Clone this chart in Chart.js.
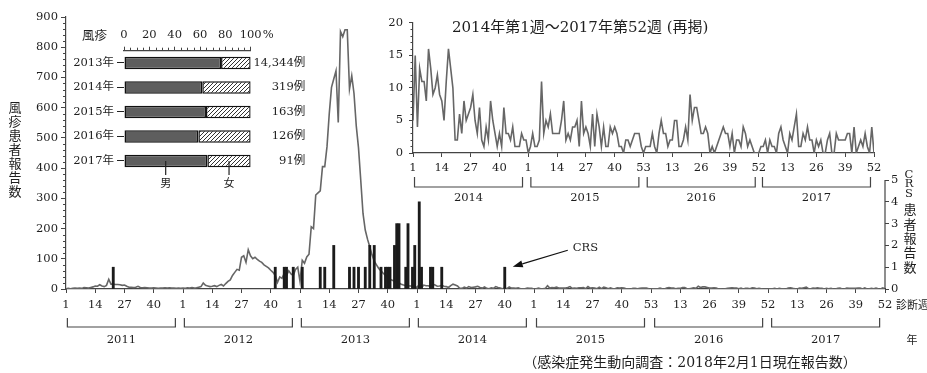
<!DOCTYPE html>
<html>
<head>
<meta charset="utf-8">
<script src="https://cdn.jsdelivr.net/npm/chart.js@4/dist/chart.umd.min.js"></script>
<style>
  html, body { margin: 0; padding: 0; background: #fff; }
  #wrap { position: relative; width: 927px; height: 373px; overflow: hidden; }
  #wrap canvas { position: absolute; }
  #mainChart { left: 0; top: 0; width: 927px; height: 373px; }
  #trendChart { left: 370px; top: 10px; width: 520px; height: 200px; }
  #sexChart { left: 60px; top: 20px; width: 260px; height: 180px; }
</style>
</head>
<body>
<div id="wrap">
  <canvas id="mainChart" width="927" height="373"></canvas>
  <canvas id="trendChart" width="520" height="200"></canvas>
  <canvas id="sexChart" width="260" height="180"></canvas>
</div>
<script>
// weekly rubella reports, one array per year
const years = [2011, 2012, 2013, 2014, 2015, 2016, 2017];
const weeksPerYear = [52, 52, 52, 52, 53, 52, 52];

const rubella2011 = [1, 2, 1, 2, 3, 2, 3, 2, 5, 4, 3, 5, 7, 10, 9, 14, 10, 8, 12, 32, 16, 16, 15, 15, 14, 12,
  13, 9, 6, 6, 5, 6, 9, 5, 4, 5, 4, 3, 3, 4, 3, 2, 3, 3, 4, 3, 4, 3, 3, 2, 3, 2];
const rubella2012 = [3, 2, 4, 3, 5, 3, 4, 6, 8, 20, 12, 10, 8, 9, 11, 8, 12, 15, 10, 18, 25, 30, 45, 55, 65, 62,
  105, 110, 88, 130, 110, 100, 105, 98, 92, 88, 80, 75, 70, 62, 55, 45, 22, 40, 35, 52, 45, 60, 50, 45, 65, 72];
const rubella2013 = [25, 95, 85, 106, 115, 206, 200, 311, 318, 325, 405, 405, 471, 580, 667, 695, 722, 551, 852, 835,
  858, 858, 662, 706, 647, 540, 467, 360, 250, 195, 165, 140, 113, 92, 80, 68, 60, 52, 45, 38,
  32, 29, 26, 24, 20, 16, 13, 12, 11, 10, 10, 9];
const rubella2014 = [5, 15, 4, 13, 11, 11, 8, 16, 13, 9, 10, 12, 9, 8, 5, 11, 16, 13, 10, 2, 2, 6, 3, 8, 5, 6,
  7, 9, 5, 3, 7, 2, 1, 4, 2, 8, 5, 3, 1, 3, 1, 7, 3, 3, 2, 4, 1, 1, 1, 3, 2, 2];
const rubella2015 = [0, 1, 3, 1, 1, 2, 11, 3, 5, 4, 6, 3, 3, 3, 3, 5, 8, 2, 3, 2, 4, 4, 5, 1, 8, 3, 4,
  3, 1, 6, 1, 6, 4, 1, 4, 1, 1, 4, 3, 4, 3, 1, 1, 0, 2, 2, 1, 2, 3, 3, 3, 1, 0];
const rubella2016 = [1, 1, 1, 3, 1, 0, 3, 5, 3, 3, 1, 2, 2, 5, 5, 1, 1, 2, 4, 2, 9, 5, 7, 7, 5, 3,
  3, 4, 3, 0, 1, 0, 1, 2, 3, 4, 3, 3, 1, 3, 0, 2, 2, 1, 4, 3, 1, 2, 1, 0, 0, 0];
const rubella2017 = [1, 1, 2, 0, 2, 1, 1, 0, 3, 4, 2, 1, 0, 3, 2, 4, 6, 1, 1, 3, 2, 4, 2, 2, 0, 2,
  1, 2, 0, 0, 2, 3, 0, 0, 3, 2, 2, 2, 2, 3, 3, 0, 4, 0, 1, 2, 1, 3, 1, 0, 4, 0];

// CRS reports by diagnosis week
const crsYear = [2011, 2012, 2012, 2012, 2012,
  2013, 2013, 2013, 2013, 2013, 2013, 2013, 2013, 2013, 2013, 2013, 2013, 2013, 2013, 2013, 2013, 2013, 2013, 2013, 2013, 2013,
  2014, 2014, 2014, 2014, 2014, 2014];
const crsWeek = [22, 42, 46, 47, 50,
  2, 10, 12, 16, 23, 25, 27, 30, 32, 34, 37, 39, 40, 41, 43, 44, 45, 48, 49, 51, 52,
  2, 3, 7, 8, 12, 40];
const crsCount = [1, 1, 1, 1, 1,
  1, 1, 1, 2, 1, 1, 1, 1, 2, 2, 1, 1, 1, 1, 2, 3, 3, 1, 3, 1, 2,
  4, 1, 1, 1, 1, 1];

// tick labels
const mainTickYear = [2011, 2011, 2011, 2011, 2012, 2012, 2012, 2012, 2013, 2013, 2013, 2013,
  2014, 2014, 2014, 2014, 2015, 2015, 2015, 2015, 2015, 2016, 2016, 2016, 2016, 2017, 2017, 2017, 2017];
const mainTickWeek = [1, 14, 27, 40, 1, 14, 27, 40, 1, 14, 27, 40,
  1, 14, 27, 40, 1, 14, 27, 40, 53, 13, 26, 39, 52, 13, 26, 39, 52];
const leftTicks = [0, 100, 200, 300, 400, 500, 600, 700, 800, 900];
const crsTicks = [0, 1, 2, 3, 4, 5];
const trendTicks = [0, 5, 10, 15, 20];

// sex ratio inset
const sexYears = ["2013年", "2014年", "2015年", "2016年", "2017年"];
const malePct = [76.6, 61.8, 64.7, 58.7, 65.8];
const femalePct = [23.4, 38.2, 35.3, 41.3, 34.2];
const caseCounts = [14344, 319, 163, 126, 91];
const pctTicks = [0, 20, 40, 60, 80, 100];

const numFont = "'DejaVu Serif', 'Noto Sans CJK JP', serif";
const jpFont = "'Noto Sans CJK JP', sans-serif";
const axisColor = "#444";
const textColor = "#1e1e1e";
const lineColor = "#666";

const rubellaByYear = [rubella2011, rubella2012, rubella2013, rubella2014, rubella2015, rubella2016, rubella2017];
const yearStart = [];
let weekTotal = 0;
weeksPerYear.forEach((w) => {
  yearStart.push(weekTotal);
  weekTotal += w;
});

const mainPoints = rubellaByYear.flatMap((arr, yi) => arr.map((v, wi) => ({ x: yearStart[yi] + wi, y: v })));
const crsPoints = crsYear.map((yr, i) => ({ x: yearStart[years.indexOf(yr)] + crsWeek[i] - 1, y: crsCount[i] }));
const mainTickIndex = mainTickYear.map((yr, i) => yearStart[years.indexOf(yr)] + mainTickWeek[i] - 1);

const trendYearIndex = years.indexOf(2014);
const trendBase = yearStart[trendYearIndex];
const trendPoints = mainPoints.filter((p) => p.x >= trendBase).map((p) => ({ x: p.x - trendBase, y: p.y }));
const trendTickIndex = [];
const trendTickLabel = [];
mainTickYear.forEach((yr, i) => {
  if (yr >= 2014) {
    trendTickIndex.push(mainTickIndex[i] - trendBase);
    trendTickLabel.push(mainTickWeek[i]);
  }
});

function line(ctx, x1, y1, x2, y2) {
  ctx.beginPath();
  ctx.moveTo(x1, y1);
  ctx.lineTo(x2, y2);
  ctx.stroke();
}

function bracket(ctx, cx, half, top, bottom) {
  ctx.beginPath();
  ctx.moveTo(cx - half, top);
  ctx.lineTo(cx - half, bottom);
  ctx.lineTo(cx + half, bottom);
  ctx.lineTo(cx + half, top);
  ctx.stroke();
}

function verticalText(ctx, text, x, y0, step) {
  let y = y0;
  for (const ch of text) {
    ctx.fillText(ch, x, y);
    y += step;
  }
}

const mainDecor = {
  id: "mainDecor",
  afterDraw(chart) {
    const { ctx, chartArea: area, scales } = chart;
    const { x, y, y2 } = scales;
    ctx.save();
    ctx.strokeStyle = axisColor;
    ctx.lineWidth = 1;
    for (let v = 20; v < 900; v += 20) {
      if (v % 100 === 0) continue;
      const py = Math.round(y.getPixelForValue(v)) + 0.5;
      line(ctx, area.left - 3, py, area.left, py);
    }

    ctx.lineWidth = 1.2;
    line(ctx, area.right, y2.getPixelForValue(0), area.right, y2.getPixelForValue(crsTicks[crsTicks.length - 1]));

    ctx.fillStyle = textColor;
    ctx.textAlign = "center";
    ctx.textBaseline = "middle";
    ctx.font = `11.5px ${numFont}`;
    years.forEach((yr, i) => {
      const cx = x.getPixelForValue(yearStart[i] + (weeksPerYear[i] - 1) / 2) - 2;
      bracket(ctx, cx, 54, 318, 327);
      ctx.fillText(String(yr), cx, 340);
    });

    ctx.font = `13px ${jpFont}`;
    verticalText(ctx, "風疹患者報告数", 15, 107, 14);
    ctx.font = `11.5px ${numFont}`;
    verticalText(ctx, "CRS", 909, 175, 9.5);
    ctx.font = `13px ${jpFont}`;
    verticalText(ctx, "患者報告数", 910, 209.5, 14.3);

    ctx.font = `11px ${jpFont}`;
    ctx.textAlign = "left";
    ctx.fillText("診断週", 896, 305);
    ctx.textAlign = "center";
    ctx.fillText("年", 912, 340);

    ctx.font = `14px ${numFont}`;
    ctx.fillText("（感染症発生動向調査：2018年2月1日現在報告数）", 690, 363);

    // CRS arrow pointing to the last CRS bar
    const last = crsPoints[crsPoints.length - 1];
    const tipX = x.getPixelForValue(last.x) + 8;
    const tipY = y2.getPixelForValue(last.y) - 0.5;
    const tailX = tipX + 55;
    const tailY = tipY - 16.5;
    ctx.strokeStyle = "#111";
    ctx.lineWidth = 1.2;
    const ang = Math.atan2(tipY - tailY, tipX - tailX);
    const headLen = 10;
    const bx = tipX - headLen * Math.cos(ang);
    const by = tipY - headLen * Math.sin(ang);
    line(ctx, tailX, tailY, bx, by);
    ctx.fillStyle = "#111";
    ctx.beginPath();
    ctx.moveTo(tipX, tipY);
    ctx.lineTo(bx + 3.5 * Math.sin(ang), by - 3.5 * Math.cos(ang));
    ctx.lineTo(bx - 3.5 * Math.sin(ang), by + 3.5 * Math.cos(ang));
    ctx.closePath();
    ctx.fill();
    ctx.fillStyle = textColor;
    ctx.font = `11.5px ${numFont}`;
    ctx.textAlign = "left";
    ctx.fillText("CRS", tailX + 5, tailY - 2);
    ctx.restore();
  }
};

new Chart(document.getElementById("mainChart"), {
  data: {
    datasets: [
      {
        type: "line",
        data: mainPoints,
        yAxisID: "y",
        borderColor: lineColor,
        borderWidth: 1.6,
        pointRadius: 0,
        tension: 0,
        order: 2
      },
      {
        type: "bar",
        data: crsPoints,
        yAxisID: "y2",
        backgroundColor: "#1b1b1b",
        barThickness: 2.2,
        order: 1
      }
    ]
  },
  options: {
    responsive: false,
    animation: false,
    layout: { padding: { top: 17, left: 0, right: 0, bottom: 0 } },
    plugins: { legend: { display: false }, tooltip: { enabled: false } },
    scales: {
      x: {
        type: "linear",
        min: 0,
        max: weekTotal - 1,
        offset: false,
        afterFit: (s) => { s.height = 84; },
        afterBuildTicks: (s) => { s.ticks = mainTickIndex.map((v) => ({ value: v })); },
        ticks: {
          callback: (v, i) => String(mainTickWeek[i]),
          font: { family: numFont, size: 11.5 },
          color: textColor,
          padding: 5,
          maxRotation: 0,
          autoSkip: false
        },
        grid: { drawOnChartArea: false, offset: false, tickLength: 4, color: axisColor },
        border: { color: axisColor, width: 1.2 }
      },
      y: {
        position: "left",
        min: 0,
        max: 900,
        afterFit: (s) => { s.width = 66; },
        afterBuildTicks: (s) => { s.ticks = leftTicks.map((v) => ({ value: v })); },
        ticks: { font: { family: numFont, size: 11.5 }, color: textColor, padding: 3 },
        grid: { drawOnChartArea: false, tickLength: 5, color: axisColor },
        border: { color: axisColor, width: 1.2 }
      },
      y2: {
        position: "right",
        min: 0,
        max: 12.48,
        afterFit: (s) => { s.width = 42; },
        afterBuildTicks: (s) => { s.ticks = crsTicks.map((v) => ({ value: v })); },
        ticks: { font: { family: numFont, size: 11.5 }, color: textColor, padding: 2 },
        grid: { drawOnChartArea: false, tickLength: 4, color: axisColor },
        border: { display: false }
      }
    }
  },
  plugins: [mainDecor]
});

const trendDecor = {
  id: "trendDecor",
  afterDraw(chart) {
    const { ctx, chartArea: area, scales } = chart;
    const { x, y } = scales;
    ctx.save();
    ctx.strokeStyle = axisColor;
    ctx.lineWidth = 1;
    for (let v = 1; v < 20; v++) {
      if (v % 5 === 0) continue;
      const py = Math.round(y.getPixelForValue(v)) + 0.5;
      line(ctx, area.left - 2.5, py, area.left, py);
    }
    ctx.lineWidth = 1.2;
    ctx.fillStyle = textColor;
    ctx.textAlign = "center";
    ctx.textBaseline = "middle";
    ctx.font = `11.5px ${numFont}`;
    for (let i = trendYearIndex; i < years.length; i++) {
      const cx = x.getPixelForValue(yearStart[i] - trendBase + (weeksPerYear[i] - 1) / 2) - 1;
      bracket(ctx, cx, 54, 167, 177);
      ctx.fillText(String(years[i]), cx, 188);
    }
    ctx.textAlign = "left";
    ctx.font = `15px ${numFont}`;
    ctx.fillText("2014年第1週〜2017年第52週 (再掲)", 82, 18);
    ctx.restore();
  }
};

new Chart(document.getElementById("trendChart"), {
  type: "line",
  data: {
    datasets: [{
      data: trendPoints,
      borderColor: lineColor,
      borderWidth: 1.6,
      pointRadius: 0,
      tension: 0
    }]
  },
  options: {
    responsive: false,
    animation: false,
    layout: { padding: { top: 8, left: 0, right: 16, bottom: 0 } },
    plugins: { legend: { display: false }, tooltip: { enabled: false } },
    scales: {
      x: {
        type: "linear",
        min: 0,
        max: trendPoints.length - 1,
        afterFit: (s) => { s.height = 57; },
        afterBuildTicks: (s) => { s.ticks = trendTickIndex.map((v) => ({ value: v })); },
        ticks: {
          callback: (v, i) => String(trendTickLabel[i]),
          font: { family: numFont, size: 11.5 },
          color: textColor,
          padding: 4,
          maxRotation: 0,
          autoSkip: false
        },
        grid: { drawOnChartArea: false, tickLength: 4, color: axisColor },
        border: { color: axisColor, width: 1.2 }
      },
      y: {
        min: 0,
        max: 20,
        afterFit: (s) => { s.width = 43; },
        afterBuildTicks: (s) => { s.ticks = trendTicks.map((v) => ({ value: v })); },
        ticks: { font: { family: numFont, size: 11.5 }, color: textColor, padding: 6 },
        grid: { drawOnChartArea: false, tickLength: 4, color: axisColor },
        border: { color: axisColor, width: 1.2 }
      }
    }
  },
  plugins: [trendDecor]
});

const sexCanvas = document.getElementById("sexChart");
function makeHatch(target) {
  const c = document.createElement("canvas");
  c.width = 4;
  c.height = 4;
  const g = c.getContext("2d");
  g.fillStyle = "#fff";
  g.fillRect(0, 0, 4, 4);
  g.strokeStyle = "#333";
  g.lineWidth = 1;
  g.beginPath();
  g.moveTo(0, 4); g.lineTo(4, 0);
  g.moveTo(-1, 1); g.lineTo(1, -1);
  g.moveTo(3, 5); g.lineTo(5, 3);
  g.stroke();
  return target.getContext("2d").createPattern(c, "repeat");
}

const sexDecor = {
  id: "sexDecor",
  afterDraw(chart) {
    const { ctx, chartArea: area, scales } = chart;
    const { x, y } = scales;
    ctx.save();
    ctx.strokeStyle = axisColor;
    ctx.lineWidth = 1;
    for (let v = 5; v < 100; v += 5) {
      if (v % 20 === 0) continue;
      const px = Math.round(x.getPixelForValue(v)) + 0.5;
      line(ctx, px, area.top - 3, px, area.top);
    }
    ctx.fillStyle = textColor;
    ctx.textBaseline = "middle";
    ctx.textAlign = "center";
    ctx.font = `12.5px ${jpFont}`;
    ctx.fillText("風疹", 34.5, 15);
    ctx.font = `11.5px ${numFont}`;
    ctx.textAlign = "left";
    ctx.fillText("%", x.getPixelForValue(100) + 12, 15);
    ctx.textAlign = "right";
    caseCounts.forEach((n, i) => {
      ctx.fillText(n.toLocaleString("en-US") + "例", x.getPixelForValue(100) + 54.5, y.getPixelForValue(i));
    });

    const lastIdx = malePct.length - 1;
    const cy = y.getPixelForValue(lastIdx);
    const maleX = x.getPixelForValue(malePct[lastIdx] / 2);
    const femaleX = x.getPixelForValue(malePct[lastIdx] + femalePct[lastIdx] / 2);
    ctx.strokeStyle = "#222";
    ctx.lineWidth = 1.2;
    line(ctx, maleX, cy, maleX, cy + 14);
    line(ctx, femaleX, cy, femaleX, cy + 14);
    ctx.textAlign = "center";
    ctx.font = `11px ${jpFont}`;
    ctx.fillText("男", maleX, cy + 22);
    ctx.fillText("女", femaleX, cy + 22);
    ctx.restore();
  }
};

new Chart(sexCanvas, {
  type: "bar",
  data: {
    labels: sexYears,
    datasets: [
      {
        label: "男",
        data: malePct,
        backgroundColor: "#5e5e5e",
        borderColor: "#111",
        borderWidth: 1.5,
        borderSkipped: false
      },
      {
        label: "女",
        data: femalePct,
        backgroundColor: makeHatch(sexCanvas),
        borderColor: "#111",
        borderWidth: 1.5,
        borderSkipped: false
      }
    ]
  },
  options: {
    indexAxis: "y",
    responsive: false,
    animation: false,
    layout: { padding: { top: 0, left: 0, right: 69.3, bottom: 26.8 } },
    datasets: { bar: { barPercentage: 0.51, categoryPercentage: 1 } },
    plugins: { legend: { display: false }, tooltip: { enabled: false } },
    scales: {
      x: {
        position: "top",
        stacked: true,
        min: 0,
        max: 100,
        afterFit: (s) => { s.height = 30.7; },
        afterBuildTicks: (s) => { s.ticks = pctTicks.map((v) => ({ value: v })); },
        ticks: { font: { family: numFont, size: 11.5 }, color: textColor, padding: 5, maxRotation: 0 },
        grid: { drawOnChartArea: false, tickLength: 4, color: axisColor },
        border: { color: axisColor, width: 1.2 }
      },
      y: {
        stacked: true,
        afterFit: (s) => { s.width = 64; },
        ticks: { font: { family: numFont, size: 11.5 }, color: textColor, padding: 3 },
        grid: { drawOnChartArea: false, offset: false, tickLength: 7, color: "#222" },
        border: { display: false }
      }
    }
  },
  plugins: [sexDecor]
});
</script>
</body>
</html>
